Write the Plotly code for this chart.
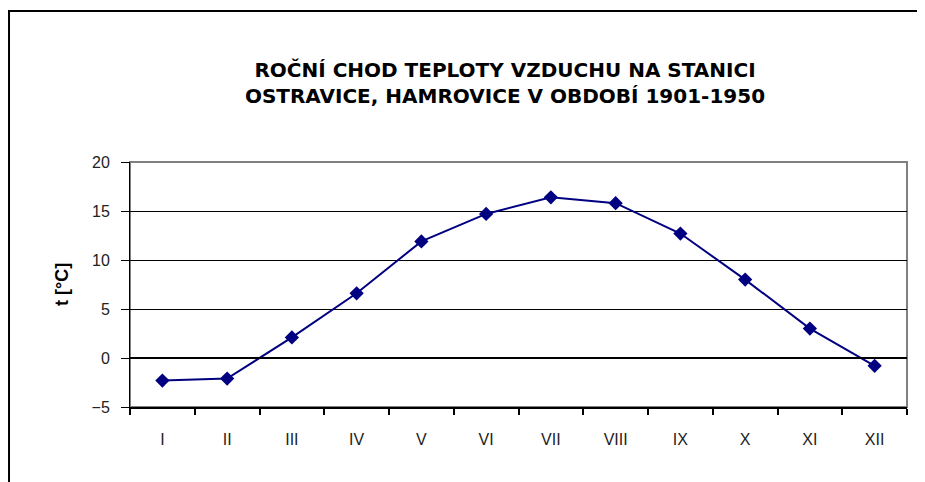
import plotly.graph_objects as go

# monthly mean air temperature, Ostravice-Hamrovice 1901-1950
months = ['I', 'II', 'III', 'IV', 'V', 'VI', 'VII', 'VIII', 'IX', 'X', 'XI', 'XII']
temps = [-2.3, -2.1, 2.1, 6.6, 11.9, 14.7, 16.4, 15.8, 12.7, 8.0, 3.0, -0.8]
y_ticks = [-5, 0, 5, 10, 15, 20]

fig = go.Figure()

fig.add_trace(go.Scatter(
    x=months, y=temps, mode='lines+markers',
    line=dict(color='#000080', width=2),
    marker=dict(symbol='diamond', size=11, color='#000080'),
    showlegend=False
))

# plot-area frame (grey top/right) and outer chart frame
fig.add_shape(type='rect', xref='paper', yref='paper', x0=0, x1=1, y0=0, y1=1,
              line=dict(color='#808080', width=2), layer='below')
fig.add_shape(type='rect', xref='paper', yref='paper',
              x0=-0.1557, x1=1.1, y0=-0.5, y1=1.6163,
              line=dict(color='black', width=2))

# zero line
fig.add_shape(type='line', xref='paper', yref='y', x0=0, x1=1, y0=0, y1=0,
              line=dict(color='black', width=2))

fig.add_annotation(text='<b>t [°C]</b>', xref='paper', yref='paper',
                   x=(62 - 130) / 777, y=(407 - 285) / 245, textangle=-90,
                   xanchor='center', yanchor='middle',
                   showarrow=False, font=dict(size=18, color='black'))

fig.update_layout(
    width=925, height=482,
    title=dict(text='<b>ROČNÍ CHOD TEPLOTY VZDUCHU NA STANICI<br>'
                    'OSTRAVICE, HAMROVICE V OBDOBÍ 1901-1950</b>',
               x=497 / 925, xanchor='center', y=1 - 69 / 482, yanchor='middle',
               font=dict(family='DejaVu Sans', size=20, color='black')),
    font=dict(family='Liberation Sans, Arial', size=12, color='black'),
    plot_bgcolor='white', paper_bgcolor='white',
    margin=dict(l=122, r=26, t=154, b=83)
)

fig.update_xaxes(type='category', range=[-0.5, 11.5], tickson='boundaries',
                 ticks='outside', ticklen=6, tickcolor='black', tickwidth=2,
                 showline=True, linecolor='black', linewidth=2, showgrid=False,
                 ticklabelstandoff=17, tickfont=dict(size=16, color='#222'))

fig.update_yaxes(range=[-5, 20], tickvals=y_ticks, ticks='outside', ticklen=8,
                 tickcolor='black', showline=True, linecolor='black', linewidth=1,
                 showgrid=True, gridcolor='black', gridwidth=1, zeroline=False,
                 ticklabelstandoff=8, tickfont=dict(size=16, color='#222'))

fig.write_html("out.html")
